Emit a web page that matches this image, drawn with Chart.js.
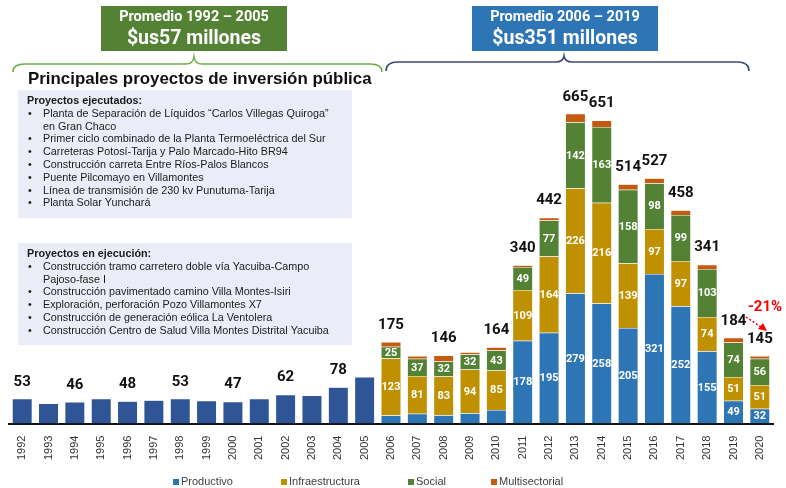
<!DOCTYPE html>
<html>
<head>
<meta charset="utf-8">
<script src="https://cdn.jsdelivr.net/npm/chart.js@4.4.1/dist/chart.umd.min.js"></script>
<style>
  html, body { margin: 0; padding: 0; background: #fff; }
  #wrap { width: 786px; height: 488px; position: relative; }
</style>
</head>
<body>
<div id="wrap"><canvas id="myChart" width="786" height="488"></canvas></div>
<script>
// years on the x axis
var years = ['1992','1993','1994','1995','1996','1997','1998','1999','2000','2001','2002','2003','2004','2005',
  '2006','2007','2008','2009','2010','2011','2012','2013','2014','2015','2016','2017','2018','2019','2020'];

var N = null;
// 1992-2005 only total is known
var totalOld = [53,43,46,53,48,50,53,49,47,53,62,60,78,100, N,N,N,N,N,N,N,N,N,N,N,N,N,N,N];
var productivo = [N,N,N,N,N,N,N,N,N,N,N,N,N,N, 17,21,18,22,29,178,195,279,258,205,321,252,155,49,32];
var infraestructura = [N,N,N,N,N,N,N,N,N,N,N,N,N,N, 123,81,83,94,85,109,164,226,216,139,97,97,74,51,51];
var social = [N,N,N,N,N,N,N,N,N,N,N,N,N,N, 25,37,32,32,43,49,77,142,163,158,98,99,103,74,56];
var multisectorial = [N,N,N,N,N,N,N,N,N,N,N,N,N,N, 10,6,13,5,7,4,6,18,14,12,11,10,9,10,6];
// totals printed above bars (null = no label)
var totalLabels = [53,N,46,N,48,N,53,N,47,N,62,N,78,N, 175,N,146,N,164,340,442,665,651,514,527,458,341,184,145];

var ejecutados = [
  ['Planta de Separación de Líquidos \u201cCarlos Villegas Quiroga\u201d', 'en Gran Chaco'],
  ['Primer ciclo combinado de la Planta Termoeléctrica del Sur'],
  ['Carreteras Potosí-Tarija y Palo Marcado-Hito BR94'],
  ['Construcción carreta Entre Ríos-Palos Blancos'],
  ['Puente Pilcomayo en Villamontes'],
  ['Línea de transmisión de 230 kv Punutuma-Tarija'],
  ['Planta Solar Yunchará']
];
var enEjecucion = [
  ['Construcción tramo carretero doble vía Yacuiba-Campo', 'Pajoso-fase I'],
  ['Construcción pavimentado camino Villa Montes-Isiri'],
  ['Exploración, perforación Pozo Villamontes X7'],
  ['Construcción de generación eólica La Ventolera'],
  ['Construcción Centro de Salud Villa Montes Distrital Yacuiba']
];

var ctx = document.getElementById('myChart').getContext('2d');

function brace(c, x1, x2, xm, yEnd, yLine, yPeak, color) {
  c.save();
  c.strokeStyle = color;
  c.lineWidth = 1.6;
  c.beginPath();
  c.moveTo(x1, yEnd);
  c.quadraticCurveTo(x1, yLine, x1 + 12, yLine);
  c.lineTo(xm - 8, yLine);
  c.quadraticCurveTo(xm - 1, yLine, xm, yPeak);
  c.quadraticCurveTo(xm + 1, yLine, xm + 8, yLine);
  c.lineTo(x2 - 12, yLine);
  c.quadraticCurveTo(x2, yLine, x2, yEnd);
  c.stroke();
  c.restore();
}

function listBox(c, x, y, w, h, title, items) {
  c.save();
  c.fillStyle = '#eaedf7';
  c.fillRect(x, y, w, h);
  c.fillStyle = '#1a1a1a';
  c.textBaseline = 'middle';
  c.font = 'bold 10.8px "Liberation Sans", Arial, sans-serif';
  var ly = y + 11;
  c.fillText(title, x + 9, ly);
  c.font = '10.8px "Liberation Sans", Arial, sans-serif';
  items.forEach(function (it) {
    it.forEach(function (line, k) {
      ly += 12.8;
      if (k === 0) c.fillText('\u2022', x + 10, ly);
      c.fillText(line, x + 25, ly);
    });
  });
  c.restore();
}

var decor = {
  id: 'decor',
  afterDatasetsDraw: function (chart) {
    var c = chart.ctx;
    // segment labels
    c.save();
    c.textAlign = 'center';
    c.textBaseline = 'middle';
    c.fillStyle = '#ffffff';
    c.font = 'bold 11px Roboto, "Liberation Sans", sans-serif';
    [1, 2, 3].forEach(function (di) {
      var meta = chart.getDatasetMeta(di);
      var vals = chart.data.datasets[di].data;
      meta.data.forEach(function (el, i) {
        var v = vals[i];
        if (v == null) return;
        if (di === 1 && v < 30) return;
        c.fillText(String(v), el.x, (el.y + el.base) / 2 + 0.5);
      });
    });
    // totals
    c.fillStyle = '#111';
    c.font = 'bold 15px Roboto, "Liberation Sans", sans-serif';
    years.forEach(function (y, i) {
      if (totalLabels[i] == null) return;
      var top = Infinity, x = 0;
      chart.data.datasets.forEach(function (ds, di) {
        if (ds.data[i] == null) return;
        var el = chart.getDatasetMeta(di).data[i];
        if (el.y < top) { top = el.y; x = el.x; }
      });
      c.fillText(String(totalLabels[i]), x, top - 17);
    });
    c.restore();
  },
  afterDraw: function (chart) {
    var c = chart.ctx;
    c.save();
    // banners
    c.fillStyle = '#548235';
    c.fillRect(101, 6, 186, 45);
    c.fillStyle = '#2e75b6';
    c.fillRect(472, 6, 186, 45);
    c.fillStyle = '#fff';
    c.textAlign = 'center';
    c.textBaseline = 'middle';
    c.font = 'bold 14.5px Roboto, sans-serif';
    c.fillText('Promedio 1992 \u2013 2005', 194, 17);
    c.fillText('Promedio 2006 \u2013 2019', 565, 17);
    c.font = 'bold 19.5px Roboto, sans-serif';
    c.fillText('$us57 millones', 194, 39);
    c.fillText('$us351 millones', 565, 39);
    // braces
    brace(c, 13, 382, 194, 72, 64, 57, '#70ad47');
    brace(c, 386, 749, 564, 71, 62, 56, '#3e4a78');
    // title
    c.fillStyle = '#111';
    c.textAlign = 'left';
    c.font = 'bold 16.9px "Liberation Sans", Arial, sans-serif';
    c.fillText('Principales proyectos de inversión pública', 28, 79);
    c.restore();
    listBox(c, 18, 90, 334, 128, 'Proyectos ejecutados:', ejecutados);
    listBox(c, 18, 243, 334, 102, 'Proyectos en ejecución:', enEjecucion);
    // -21% note
    c.save();
    c.fillStyle = '#ff0000';
    c.font = 'bold 15px Roboto, sans-serif';
    c.textAlign = 'center';
    c.textBaseline = 'middle';
    c.fillText('-21%', 765, 307);
    c.strokeStyle = '#ff0000';
    c.lineWidth = 1.5;
    c.setLineDash([2, 2]);
    c.beginPath();
    c.moveTo(746, 317);
    c.lineTo(761, 327);
    c.stroke();
    c.setLineDash([]);
    c.beginPath();
    c.moveTo(767, 331);
    c.lineTo(758, 329);
    c.lineTo(763, 323);
    c.closePath();
    c.fill();
    c.restore();
    // legend
    c.save();
    c.font = '11px "Liberation Sans", Arial, sans-serif';
    c.textBaseline = 'middle';
    var lx = [173, 281, 408, 491];
    [1, 2, 3, 4].forEach(function (di, k) {
      var ds = chart.data.datasets[di];
      c.fillStyle = ds.backgroundColor;
      c.fillRect(lx[k], 479, 6, 6);
      c.fillStyle = '#404040';
      c.fillText(ds.label, lx[k] + 8, 482);
    });
    c.restore();
  }
};

function ds(label, data, color) {
  return {
    label: label,
    data: data,
    backgroundColor: color,
    borderColor: 'rgba(255,255,255,0.6)',
    borderWidth: 0.5,
    stack: 's'
  };
}

var myChart = new Chart(ctx, {
  type: 'bar',
  data: {
    labels: years,
    datasets: [
      ds('Total', totalOld, '#2f5597'),
      ds('Productivo', productivo, '#2e75b6'),
      ds('Infraestructura', infraestructura, '#bf9000'),
      ds('Social', social, '#548235'),
      ds('Multisectorial', multisectorial, '#c55a11')
    ]
  },
  options: {
    responsive: false,
    animation: false,
    layout: { padding: { top: 51, left: 9, right: 13, bottom: 24 } },
    datasets: { bar: { categoryPercentage: 1, barPercentage: 0.76 } },
    plugins: { legend: { display: false }, tooltip: { enabled: false } },
    scales: {
      x: {
        stacked: true,
        grid: { display: false },
        border: { display: true, color: '#111', width: 2 },
        ticks: {
          minRotation: 90, maxRotation: 90, padding: 4,
          color: '#333',
          font: { family: '"Liberation Sans", Arial, sans-serif', size: 11 }
        }
      },
      y: {
        stacked: true,
        display: false,
        min: 0,
        max: 800
      }
    }
  },
  plugins: [decor]
});
</script>
</body>
</html>
